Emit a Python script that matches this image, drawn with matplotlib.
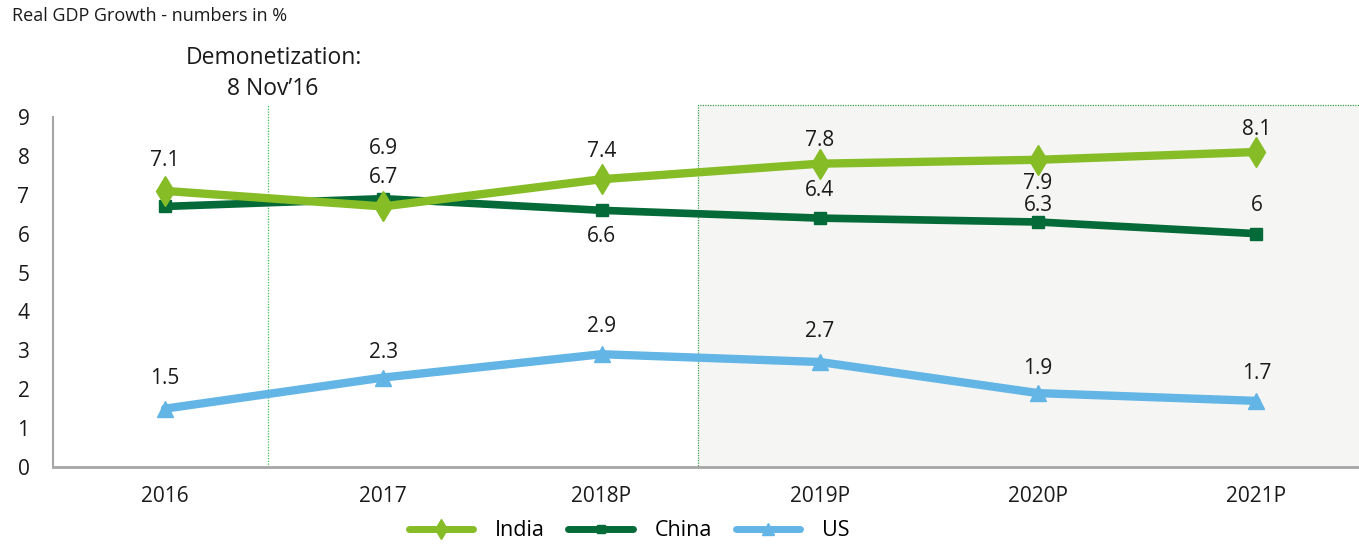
import matplotlib
matplotlib.use("Agg")
import matplotlib.pyplot as plt
from matplotlib.patches import Rectangle

plt.rcParams['font.family'] = ['Open Sans', 'DejaVu Sans']

years = ["2016", "2017", "2018P", "2019P", "2020P", "2021P"]
india = [7.1, 6.7, 7.4, 7.8, 7.9, 8.1]
china = [6.7, 6.9, 6.6, 6.4, 6.3, 6.0]
us = [1.5, 2.3, 2.9, 2.7, 1.9, 1.7]
india_lbl = ["7.1", "6.7", "7.4", "7.8", "7.9", "8.1"]
china_lbl = [None, "6.9", "6.6", "6.4", "6.3", "6"]
us_lbl = ["1.5", "2.3", "2.9", "2.7", "1.9", "1.7"]
# label offsets in points (positive = above)
india_off = [22, 21, 20, 17, -17, 16]
china_off = [0, 36, -19, 20, 12, 20]
us_off = [22, 18, 20, 22, 18, 20]

C_IN = "#86BC25"
C_CN = "#046A38"
C_US = "#62B5E5"

fig = plt.figure(figsize=(13.59, 5.45), dpi=100)
ax = fig.add_axes([53/1359, 78/545, 1306/1359, 350/545])
x = list(range(len(years)))

# shaded projection box
ax.add_patch(Rectangle((2.44, 0), 3.2, 9.3, facecolor="#F5F5F3", edgecolor="#3FA34D",
                       linestyle=(0, (1, 1)), linewidth=0.9, clip_on=False, zorder=0))
# demonetization line
ax.plot([0.47, 0.47], [0, 9.3], color="#3FBF4A", linestyle=(0, (1, 1.2)), linewidth=0.9,
        clip_on=False, zorder=1)

ax.plot(x, china, color=C_CN, lw=5.5, marker="s", ms=9, label="China", zorder=3,
        solid_capstyle="round")
ax.plot(x, india, color=C_IN, lw=6, marker="d", ms=15, label="India", zorder=4,
        solid_capstyle="round")
ax.plot(x, us, color=C_US, lw=6, marker="^", ms=12, label="US", zorder=3,
        solid_capstyle="round")

def labels(vals, lbls, offs):
    for i, (v, l, o) in enumerate(zip(vals, lbls, offs)):
        if l is None:
            continue
        ax.annotate(l, (i, v), xytext=(0, o), textcoords="offset points",
                    ha="center", va="center", fontsize=15, color="#1a1a1a", zorder=6)

labels(india, india_lbl, india_off)
labels(china, china_lbl, china_off)
labels(us, us_lbl, us_off)

ax.set_xlim(-0.513, 5.47)
ax.set_ylim(0, 9)
ax.set_yticks(range(10))
ax.set_xticks(x)
ax.set_xticklabels(years)
ax.tick_params(axis="y", length=0, pad=17, labelsize=15, labelcolor="#1a1a1a")
ax.tick_params(axis="x", length=0, pad=14, labelsize=15, labelcolor="#1a1a1a")
for s in ["top", "right"]:
    ax.spines[s].set_visible(False)
ax.spines["left"].set_color("#A6A6A6")
ax.spines["bottom"].set_color("#A6A6A6")
ax.spines["left"].set_linewidth(1.5)
ax.spines["bottom"].set_linewidth(2)
ax.patch.set_alpha(0)

fig.text(12/1359, 1 - 7/545, "Real GDP Growth - numbers in %", ha="left", va="top",
         fontsize=13, color="#1a1a1a")
fig.text(274/1359, 1 - 58/545, "Demonetization:", ha="center", va="center",
         fontsize=16.5, color="#1a1a1a")
fig.text(273/1359, 1 - 89/545, "8 Nov\u201916", ha="center", va="center",
         fontsize=16.5, color="#1a1a1a")

h, l = ax.get_legend_handles_labels()
order = [1, 0, 2]
leg = fig.legend([h[i] for i in order], [l[i] for i in order], loc="center",
                 bbox_to_anchor=(629/1359, 14/545), ncol=3, frameon=False, fontsize=15.5,
                 handlelength=3.0, handletextpad=1.0, columnspacing=1.1, markerscale=0.7)
for ln in leg.get_lines():
    ln.set_linewidth(5)

fig.savefig("out.png", dpi=100)
